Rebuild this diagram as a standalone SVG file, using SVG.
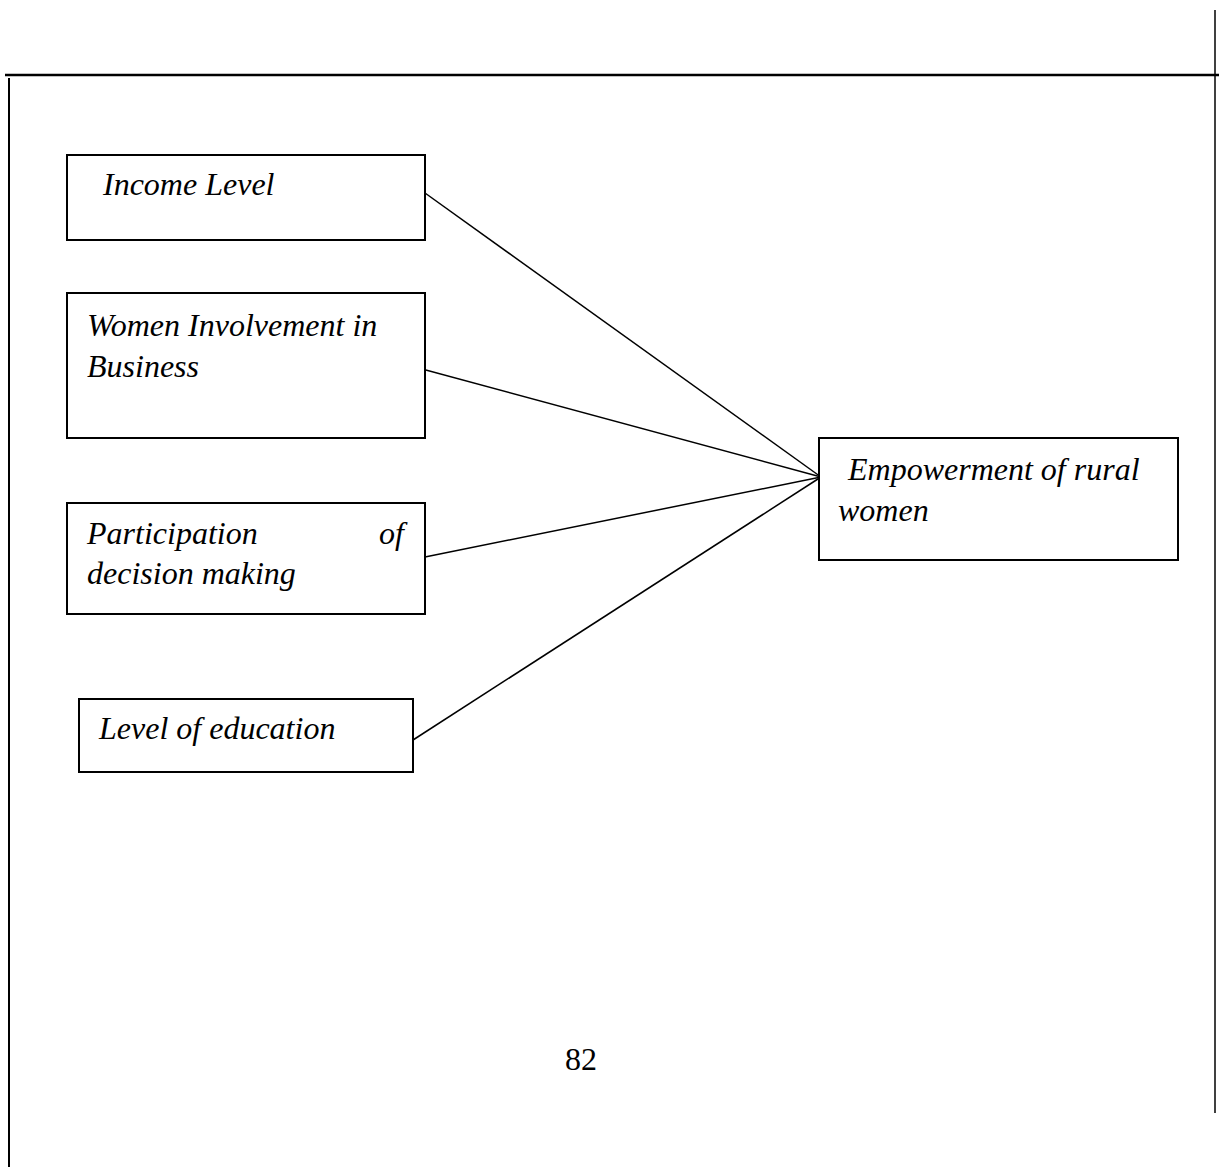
<svg xmlns="http://www.w3.org/2000/svg" width="1219" height="1167" viewBox="0 0 1219 1167">
<style>
.box{fill:#fff;stroke:#000;stroke-width:2}
.lbl{font-family:"Liberation Serif","Times New Roman",serif;font-style:italic;font-size:32px;fill:#000}
.pg{font-family:"Liberation Serif","Times New Roman",serif;font-size:32px;fill:#000}
.rule{stroke:#000;fill:none}
.conn{stroke:#000;stroke-width:1.5;fill:none}
</style>
<rect width="1219" height="1167" fill="#fff"/>
<g id="page-frame">
<line class="rule" x1="5" y1="75" x2="1219" y2="75" stroke-width="2.5"/>
<line class="rule" x1="9" y1="78" x2="9" y2="1167" stroke-width="2"/>
<line class="rule" x1="1215" y1="10" x2="1215" y2="1113" stroke-width="1.5"/>
</g>
<g id="connectors">
<line class="conn" x1="425" y1="193" x2="821" y2="477"/>
<line class="conn" x1="411" y1="366" x2="821" y2="477"/>
<line class="conn" x1="425" y1="557" x2="821" y2="477"/>
<line class="conn" x1="413" y1="740" x2="821" y2="477"/>
</g>
<g id="income-level">
<rect class="box" x="67" y="155" width="358" height="85"/>
<text class="lbl" x="103" y="195">Income Level</text>
</g>
<g id="women-involvement">
<rect class="box" x="67" y="293" width="358" height="145"/>
<text class="lbl" x="87" y="336">Women Involvement in</text>
<text class="lbl" x="87" y="377">Business</text>
</g>
<g id="participation">
<rect class="box" x="67" y="503" width="358" height="111"/>
<text class="lbl" x="87" y="544">Participation</text>
<text class="lbl" x="404" y="544" text-anchor="end">of</text>
<text class="lbl" x="87" y="584">decision making</text>
</g>
<g id="level-of-education">
<rect class="box" x="79" y="699" width="334" height="73"/>
<text class="lbl" x="99" y="739">Level of education</text>
</g>
<g id="empowerment">
<rect class="box" x="819" y="438" width="359" height="122"/>
<text class="lbl" x="848" y="480">Empowerment of rural</text>
<text class="lbl" x="838" y="521">women</text>
</g>
<text class="pg" x="581" y="1070" text-anchor="middle">82</text>
</svg>
